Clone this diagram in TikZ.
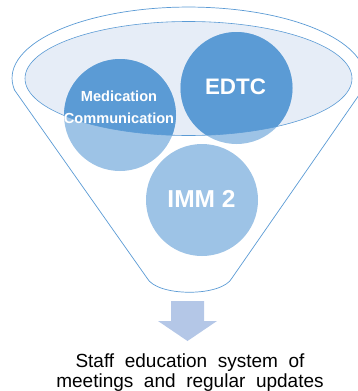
\documentclass[tikz,border=0pt]{standalone}
\usepackage{fontspec}
\setmainfont{Liberation Sans}
\definecolor{dark}{HTML}{5B9BD5}
\definecolor{light}{HTML}{9DC3E6}
\definecolor{ellfill}{HTML}{E6EDF7}
\definecolor{arrowc}{HTML}{B4C7E7}
\definecolor{linec}{HTML}{5B9BD5}
\begin{document}
\begin{tikzpicture}[x=1pt,y=-1pt,
  funnel/.style={draw=linec,line width=0.7pt,fill=white},
  bubble/.style={circle,minimum size=112pt,inner sep=0pt,fill=light},
  ctext/.style={text=white,align=center,font=\bfseries},
  caption/.style={align=center}]
\useasboundingbox (0,0) rectangle (357,391);
% funnel outline
\draw[funnel] (14.5,90) -- (147,278) .. controls (157,297) and (222,297) .. (232,278) -- (362.5,90)
  arc[start angle=-9.7, end angle=189.7, x radius=176.5pt, y radius=71pt] -- cycle;
% inner ellipse
\fill[ellfill] (188.5,78.5) ellipse [x radius=163.5pt, y radius=57pt];
% circles
\node[bubble] (med) at (120,115) {};
\node[bubble] (edtc) at (236.5,88) {};
\node[bubble] (imm) at (202,200) {};
\begin{scope}
  \clip (188.5,78.5) ellipse [x radius=163.5pt, y radius=57pt];
  \fill[dark] (med.center) circle (56pt);
  \fill[dark] (edtc.center) circle (56pt);
\end{scope}
\draw[linec,line width=0.6pt] (188.5,78.5) ellipse [x radius=163.5pt, y radius=57pt];
% texts in circles
\node[ctext,font=\bfseries\fontsize{14.6pt}{22pt}\selectfont] (medtxt) at (119,107.5) {Medication\\Communication};
\node[ctext,font=\bfseries\fontsize{22.4pt}{26pt}\selectfont] (edtctxt) at (235.5,87) {EDTC};
\node[ctext,font=\bfseries\fontsize{24.5pt}{28pt}\selectfont] (immtxt) at (201.5,198.7) {IMM 2};
% arrow
\fill[arrowc] (171,301) -- (204,301) -- (204,321) -- (217,321) -- (187.5,341) -- (158,321) -- (171,321) -- cycle;
% caption
\node[caption,anchor=base,font=\fontsize{19pt}{20pt}\selectfont] (cap) at (190,387)
  {\spaceskip=10.6pt\relax Staff education system of\\\spaceskip=10.6pt\relax meetings and regular updates};
\end{tikzpicture}
\end{document}
